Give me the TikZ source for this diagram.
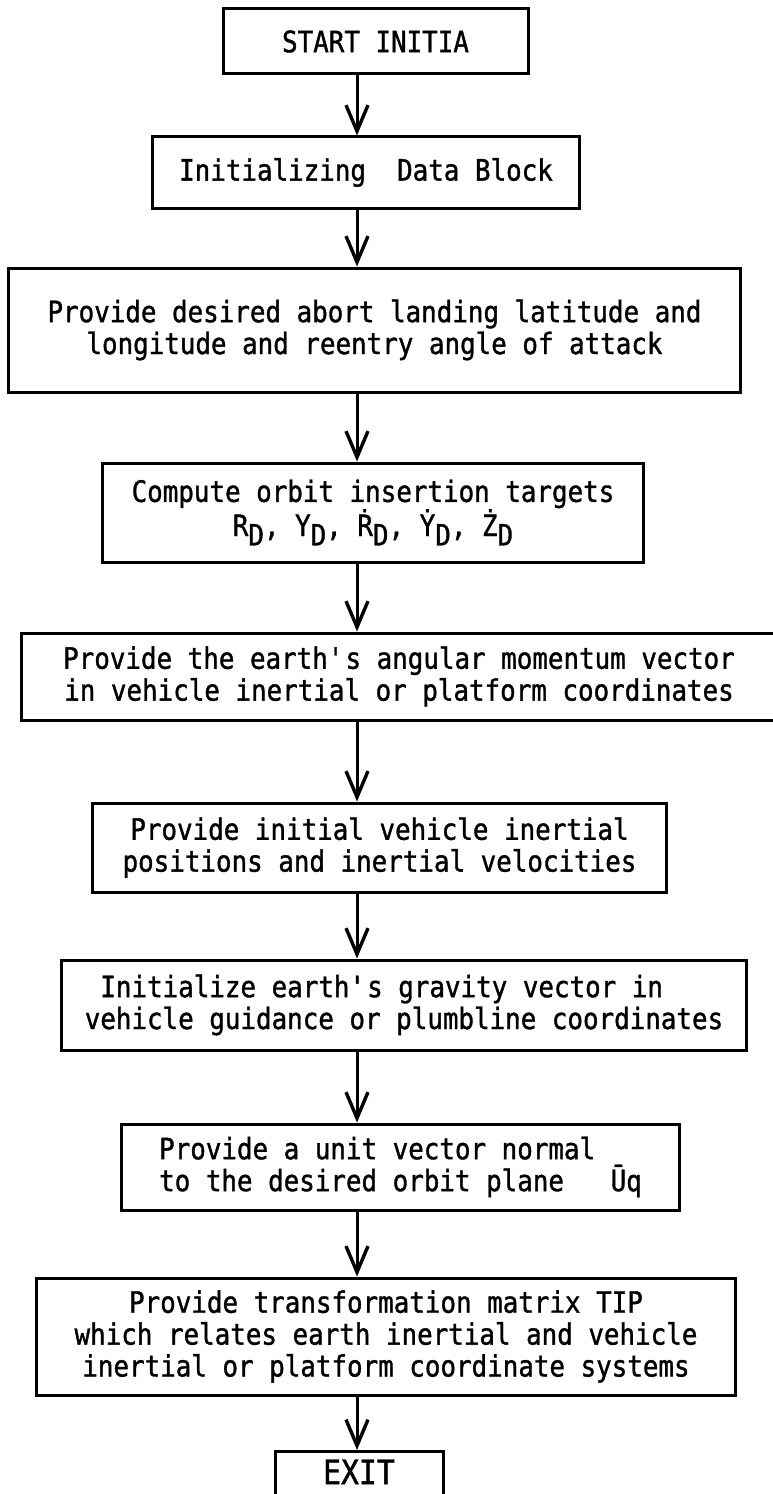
\documentclass[tikz,border=0pt]{standalone}
\usepackage{fontspec}
\setmainfont{DejaVu Sans Mono}[FakeStretch=0.88, FakeBold=1.2]
\usetikzlibrary{arrows.meta}
\newcommand{\subD}{\raisebox{-0.32em}{D}}
\newcommand{\apos}{\textquotesingle}

\begin{document}
\begin{tikzpicture}[
        x=1bp, y=-1bp,
        every node/.style = {font=\fontsize{29.5}{32}\selectfont},
        stepbox/.style = {draw, line width=3bp, align=center, inner sep=0pt},
        flow/.style = {line width=3bp, -{Straight Barb[length=26bp,width=22bp,line width=3.4bp]}}
        ]
        \useasboundingbox (0,0) rectangle (772,1494);
        \coordinate (axis) at (357,0);
        % boxes, top to bottom
        \node[stepbox, minimum width=305bp, minimum height=65bp] (start) at (375.5,41.5) {START INITIA};
        \node[stepbox, minimum width=426bp, minimum height=71bp] (init) at (366,172.5) {Initializing~ Data Block};
        \node[stepbox, minimum width=731bp, minimum height=124bp] (abort) at (374.5,330)
            {Provide desired abort landing latitude and\\longitude and reentry angle of attack};
        \node[stepbox, minimum width=540bp, minimum height=99bp] (targets) at (373,512.5)
            {Compute orbit insertion targets\\R\subD, Y\subD, \.{R}\subD, \.{Y}\subD, \.{Z}\subD};
        \node[stepbox, minimum width=754bp, minimum height=87bp] (momentum) at (399,676.5)
            {Provide the earth\apos s angular momentum vector\\in vehicle inertial or platform coordinates};
        \node[stepbox, minimum width=573bp, minimum height=89bp] (state) at (379.5,847.5)
            {Provide initial vehicle inertial\\positions and inertial velocities};
        \node[stepbox, minimum width=684bp, minimum height=90bp, align=left] (gravity) at (404,1005)
            {\hphantom{x}Initialize earth\apos s gravity vector in\\vehicle guidance or plumbline coordinates};
        \node[stepbox, minimum width=557bp, minimum height=86bp, align=left] (normal) at (400.5,1167)
            {Provide a unit vector normal\\to the desired orbit plane~~~\={U}q};
        \node[stepbox, minimum width=698bp, minimum height=117bp] (tip) at (386,1336.5)
            {Provide transformation matrix TIP\\which relates earth inertial and vehicle\\inertial or platform coordinate systems};
        \node[stepbox, minimum width=168bp, minimum height=90bp, anchor=north] (exit) at (359,1450) {};
        \node[anchor=north, font=\fontsize{34}{36}\selectfont] (exittext) at (exit.north) [yshift=-6bp] {EXIT};
        % connectors
        \foreach \a/\b in {start/init, init/abort, abort/targets, targets/momentum,
                momentum/state, state/gravity, gravity/normal, normal/tip, tip/exit}
            \draw[flow] (\a.south -| axis) -- (\b.north -| axis);
    \end{tikzpicture}
\end{document}
